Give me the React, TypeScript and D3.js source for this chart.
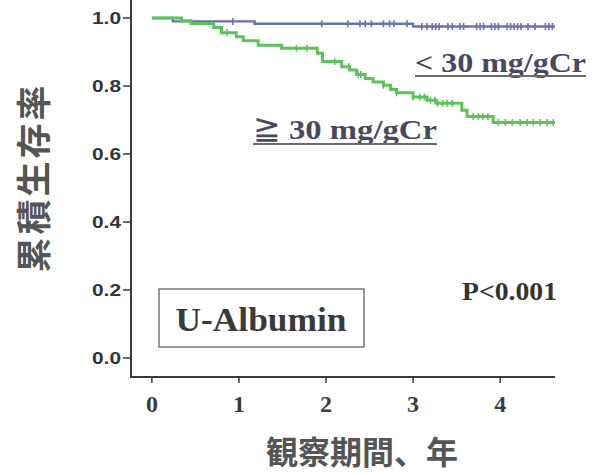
import React from "react";
import * as d3 from "d3";

// Kaplan–Meier steps: [time in years, cumulative survival after the step]
const lowSteps: [number, number][] = [
  [0, 1.0],
  [0.24, 0.99],
  [1.18, 0.983],
  [3.0, 0.975],
];
const lowEnd = 4.63;
const lowCensored = [
  0.93, 1.95, 2.25, 2.39, 2.45, 2.52, 2.66, 2.73, 2.78, 2.93, 3.1, 3.16, 3.22,
  3.26, 3.3, 3.4, 3.45, 3.54, 3.58, 3.73, 3.77, 3.81, 3.9, 3.94, 3.98, 4.08,
  4.12, 4.16, 4.2, 4.24, 4.32, 4.4, 4.52, 4.56, 4.6,
];

const highSteps: [number, number][] = [
  [0, 1.0],
  [0.34, 0.992],
  [0.45, 0.984],
  [0.71, 0.972],
  [0.8, 0.957],
  [0.97, 0.945],
  [1.05, 0.933],
  [1.22, 0.92],
  [1.49, 0.911],
  [1.9, 0.896],
  [1.96, 0.872],
  [2.18, 0.857],
  [2.27, 0.847],
  [2.35, 0.834],
  [2.45, 0.822],
  [2.54, 0.812],
  [2.66, 0.802],
  [2.74, 0.79],
  [2.81, 0.78],
  [3.0, 0.768],
  [3.16, 0.758],
  [3.27, 0.749],
  [3.56, 0.729],
  [3.62, 0.71],
  [3.92, 0.693],
];
const highEnd = 4.63;
const highCensored = [
  0.86, 1.66, 1.78, 2.1, 2.26, 2.37, 2.4, 2.66, 2.81, 3.0, 3.08, 3.13, 3.2,
  3.25, 3.28, 3.34, 3.39, 3.45, 3.69, 3.75, 3.8, 3.86, 3.98, 4.06, 4.14, 4.23,
  4.31, 4.38, 4.46, 4.54, 4.61,
];

const xTicks = [0, 1, 2, 3, 4];
const yTicks = [0, 0.2, 0.4, 0.6, 0.8, 1.0];

const yTitle = "累積生存率";
const xTitle = "観察期間、年";
const lowLabel = "< 30 mg/gCr";
const highSymbol = "≧";
const highLabel = "30 mg/gCr";
const boxLabel = "U-Albumin";
const pLabel = "P<0.001";

const W = 593;
const H = 473;

const x = d3.scaleLinear().domain([-0.24, 4.63]).range([131, 555]);
const y = d3.scaleLinear().domain([-0.056, 1.053]).range([377, 0]);

function stepPoints(steps: [number, number][], end: number): [number, number][] {
  const pts: [number, number][] = steps.map(([t, s]) => [t, s]);
  pts.push([end, steps[steps.length - 1][1]]);
  return pts;
}

function survivalAt(steps: [number, number][], t: number): number {
  let s = steps[0][1];
  for (const [ts, v] of steps) {
    if (ts <= t) s = v;
  }
  return s;
}

const line = d3
  .line<[number, number]>()
  .x((d) => x(d[0]))
  .y((d) => y(d[1]))
  .curve(d3.curveStepAfter);

const serif = "'Liberation Serif', 'Times New Roman', serif";
const sans = "'Liberation Sans', Arial, sans-serif";
const cjk = "'Noto Sans CJK JP', sans-serif";

function Curve({
  steps,
  end,
  censored,
  color,
  width,
}: {
  steps: [number, number][];
  end: number;
  censored: number[];
  color: string;
  width: number;
}) {
  return (
    <g>
      <path
        d={line(stepPoints(steps, end)) || ""}
        fill="none"
        stroke={color}
        strokeWidth={width}
      />
      {censored.map((t, i) => {
        const cy = y(survivalAt(steps, t));
        return (
          <line
            key={i}
            x1={x(t)}
            x2={x(t)}
            y1={cy - 3.5}
            y2={cy + 3.5}
            stroke={color}
            strokeWidth={1.6}
          />
        );
      })}
    </g>
  );
}

export default function App() {
  const axisColor = "#3a3a3a";
  const labelColor = "#474a5c";
  return (
    <svg
      width={W}
      height={H}
      style={{ position: "absolute", left: 0, top: 0, background: "#fff" }}
    >
      {/* axes */}
      <line x1={131} x2={131} y1={0} y2={377} stroke={axisColor} strokeWidth={2} />
      <line x1={130} x2={555} y1={377} y2={377} stroke={axisColor} strokeWidth={2} />
      {yTicks.map((v) => (
        <g key={v}>
          <line x1={123} x2={131} y1={y(v)} y2={y(v)} stroke={axisColor} strokeWidth={1.5} />
          <text
            x={121}
            y={y(v)}
            dy="0.36em"
            textAnchor="end"
            fontFamily={sans}
            fontWeight="bold"
            fontSize={16}
            fill="#333"
            textLength={29}
            lengthAdjust="spacingAndGlyphs"
          >
            {v.toFixed(1)}
          </text>
        </g>
      ))}
      {xTicks.map((t) => (
        <g key={t}>
          <line x1={x(t)} x2={x(t)} y1={377} y2={383} stroke={axisColor} strokeWidth={1.5} />
          <text
            x={x(t)}
            y={412}
            textAnchor="middle"
            fontFamily={serif}
            fontWeight="bold"
            fontSize={24}
            fill="#3c3c3c"
          >
            {t}
          </text>
        </g>
      ))}

      {/* axis titles */}
      <text
        transform={`translate(47,${(85 + 270) / 2}) rotate(-90)`}
        textAnchor="middle"
        fontFamily={cjk}
        fontWeight="bold"
        fontSize={35}
        fill="#555"
        letterSpacing={3}
      >
        {yTitle}
      </text>
      <text
        x={362}
        y={464}
        textAnchor="middle"
        fontFamily={cjk}
        fontWeight="bold"
        fontSize={32}
        fill="#555"
      >
        {xTitle}
      </text>

      {/* survival curves */}
      <Curve steps={lowSteps} end={lowEnd} censored={lowCensored} color="#6b6fb4" width={2.4} />
      <Curve steps={highSteps} end={highEnd} censored={highCensored} color="#5cc35a" width={3} />

      {/* group labels */}
      <text
        x={415}
        y={72}
        fontFamily={serif}
        fontWeight="bold"
        fontSize={28}
        fill={labelColor}
        textLength={171}
        lengthAdjust="spacingAndGlyphs"
      >
        {lowLabel}
      </text>
      <line x1={415} x2={586} y1={76} y2={76} stroke="#6a6a6a" strokeWidth={2} />
      <text x={253} y={139} fontFamily={serif} fontWeight="bold" fontSize={28} fill={labelColor}>
        <tspan fontFamily="'DejaVu Serif', serif" fontWeight="normal" fontSize={33}>
          {highSymbol}
        </tspan>
        <tspan x={289} textLength={148} lengthAdjust="spacingAndGlyphs">
          {highLabel}
        </tspan>
      </text>
      <line x1={253} x2={437} y1={144} y2={144} stroke="#6a6a6a" strokeWidth={2} />

      {/* p-value */}
      <text
        x={462}
        y={300}
        fontFamily={serif}
        fontWeight="bold"
        fontSize={26}
        fill="#333"
        textLength={95}
        lengthAdjust="spacingAndGlyphs"
      >
        {pLabel}
      </text>

      {/* boxed panel label */}
      <rect x={159} y={289} width={205} height={58} fill="none" stroke="#555" strokeWidth={1.2} />
      <text
        x={261}
        y={331}
        textAnchor="middle"
        fontFamily={serif}
        fontWeight="bold"
        fontSize={33}
        fill="#3a3a3a"
        textLength={171}
        lengthAdjust="spacingAndGlyphs"
      >
        {boxLabel}
      </text>
    </svg>
  );
}
